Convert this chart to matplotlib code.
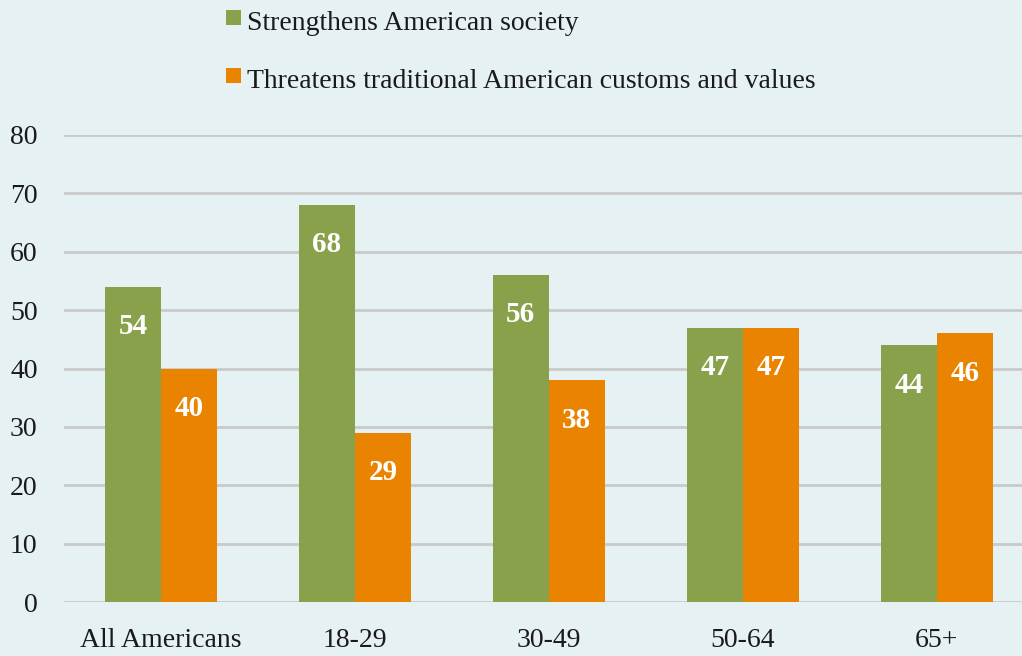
import matplotlib
matplotlib.use("Agg")
import matplotlib.pyplot as plt
from matplotlib.patches import Rectangle
import numpy as np

categories = ["All Americans", "18-29", "30-49", "50-64", "65+"]
strengthens = [54, 68, 56, 47, 44]
threatens = [40, 29, 38, 47, 46]
series_names = ["Strengthens American society",
                "Threatens traditional American customs and values"]
yticks = [0, 10, 20, 30, 40, 50, 60, 70, 80]

GREEN = "#8AA14B"
ORANGE = "#E98300"
BG = "#E6F1F4"
GRID = "#C9C9C9"
TXT = "#1a1a1a"

plt.rcParams['font.family'] = ['Liberation Serif', 'DejaVu Serif']

W, H = 1022, 656
fig = plt.figure(figsize=(W/100, H/100), dpi=100, facecolor=BG)
ax = fig.add_axes([64/W, (H-602)/H, 1 - 64/W, (602-135)/H])
ax.set_facecolor(BG)

x = np.arange(len(categories))
w = 0.289
b1 = ax.bar(x - w/2, strengthens, w, color=GREEN, zorder=3)
b2 = ax.bar(x + w/2, threatens, w, color=ORANGE, zorder=3)

for bars, vals in ((b1, strengthens), (b2, threatens)):
    for r, v in zip(bars, vals):
        ax.annotate(str(v), (r.get_x() + r.get_width()/2, v),
                    xytext=(0, -19), textcoords="offset points",
                    ha="center", va="top", color="white",
                    fontsize=21, fontweight="bold", zorder=4)

ax.set_xlim(-0.5, 4.44)
ax.set_ylim(0, 80)
ax.set_yticks(yticks)
ax.set_yticklabels([str(t) for t in yticks], fontsize=20)
ax.set_xticks(x)
ax.set_xticklabels(categories, fontsize=20)
ax.tick_params(axis="both", length=0, colors=TXT)
ax.tick_params(axis="y", pad=19)
ax.tick_params(axis="x", pad=19)
ax.grid(axis="y", color=GRID, linewidth=2, zorder=0)
for s in ax.spines.values():
    s.set_visible(False)

# legend (manual placement)
for (top, color, label, base) in ((10, GREEN, series_names[0], 30),
                                  (68, ORANGE, series_names[1], 88)):
    fig.add_artist(Rectangle((226/W, (H-top-15)/H), 15/W, 15/H,
                             transform=fig.transFigure, facecolor=color,
                             edgecolor="none"))
    fig.text(247/W, (H-base)/H, label, fontsize=20, color=TXT,
             ha="left", va="baseline")

fig.savefig("out.png", dpi=100, facecolor=BG)
